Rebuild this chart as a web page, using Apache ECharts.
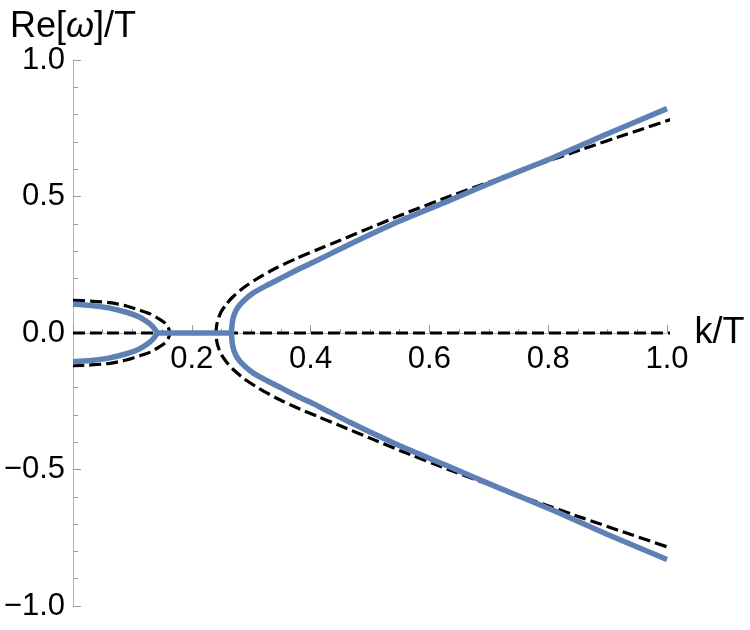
<!DOCTYPE html>
<html>
<head>
<meta charset="utf-8">
<script src="https://cdn.jsdelivr.net/npm/echarts@6/dist/echarts.min.js"></script>
<style>
  html, body { margin: 0; padding: 0; background: #fff; }
  #chart { width: 750px; height: 630px; }
</style>
</head>
<body>
<div id="chart"></div>
<script>
// tick values
const xTicks = [0.2, 0.4, 0.6, 0.8, 1.0]
const yTicks = [-1.0, -0.5, 0.0, 0.5, 1.0]

// black dashed curves
const dashLoopK = [0, 0.03, 0.062, 0.09, 0.113, 0.13, 0.146, 0.155, 0.16, 0.163]
const dashLoopUp = [0.12, 0.117, 0.111, 0.099, 0.083, 0.07, 0.05, 0.036, 0.022, 0]
const dashLoopDown = [-0.12, -0.117, -0.111, -0.099, -0.083, -0.07, -0.05, -0.036, -0.022, 0]
const dashFlatK = [0, 1.016]
const dashFlatW = [0, 0]
const dashArmK = [0.241, 0.242, 0.245, 0.25, 0.258, 0.268, 0.287, 0.313, 0.343, 0.375, 0.41, 0.45, 0.5, 0.55, 0.632, 0.7, 0.78, 0.86, 0.932, 1.016]
const dashArmUp = [0, 0.03, 0.055, 0.08, 0.105, 0.13, 0.166, 0.203, 0.239, 0.272, 0.304, 0.34, 0.385, 0.43, 0.499, 0.552, 0.615, 0.675, 0.728, 0.789]
const dashArmDown = [0, -0.03, -0.055, -0.08, -0.105, -0.13, -0.166, -0.203, -0.239, -0.272, -0.304, -0.34, -0.385, -0.43, -0.5, -0.555, -0.618, -0.679, -0.733, -0.795]

// blue solid curves
const blueLoopK = [0, 0.03, 0.06, 0.09, 0.11, 0.124, 0.134, 0.141]
const blueLoopUp = [0.105, 0.101, 0.092, 0.076, 0.06, 0.042, 0.024, 0]
const blueLoopDown = [-0.105, -0.101, -0.092, -0.076, -0.06, -0.042, -0.024, 0]
const blueFlatK = [0.141, 0.267]
const blueFlatW = [0, 0]
const blueArmK = [0.267, 0.268, 0.271, 0.277, 0.287, 0.303, 0.326, 0.352, 0.382, 0.413, 0.466, 0.55, 0.632, 0.72, 0.809, 0.9, 1.0]
const blueArmUp = [0, 0.035, 0.065, 0.092, 0.117, 0.146, 0.174, 0.203, 0.236, 0.268, 0.325, 0.41, 0.484, 0.565, 0.643, 0.73, 0.822]
const blueArmDown = [0, -0.035, -0.065, -0.092, -0.117, -0.146, -0.174, -0.203, -0.236, -0.268, -0.327, -0.413, -0.488, -0.57, -0.65, -0.738, -0.83]

// upper half forward, lower half back (or the other way) so one path is drawn
function loop(ks, up, down) {
  const pts = []
  ks.forEach((k, i) => pts.push([k, up[i]]))
  for (let i = ks.length - 1; i >= 0; i--) pts.push([ks[i], down[i]])
  return pts
}
function arm(ks, up, down) {
  const pts = []
  for (let i = ks.length - 1; i >= 0; i--) pts.push([ks[i], up[i]])
  ks.forEach((k, i) => pts.push([k, down[i]]))
  return pts
}
function pairs(ks, ws) {
  return ks.map((k, i) => [k, ws[i]])
}

const blue = '#5e81b5'
const font = 'Liberation Sans, Arial, Helvetica, sans-serif'
const dashStyle = { color: '#000', width: 3.2, type: [12, 5], cap: 'butt' }
const blueStyle = { color: blue, width: 5.5 }

const gridTop = 60
const gridBottom = 24
const plotHeight = 630 - gridTop - gridBottom

const chart = echarts.init(document.getElementById('chart'))
const option = {
  animation: false,
  backgroundColor: '#fff',
  grid: {
    left: 73,
    right: 83,
    top: gridTop,
    bottom: gridBottom,
    containLabel: false,
    outerBoundsMode: 'none'
  },
  xAxis: {
    type: 'value',
    min: 0,
    max: xTicks[xTicks.length - 1],
    interval: 0.2,
    position: 'bottom',
    // put the axis through y = 0 (middle of the plot)
    offset: -plotHeight / 2,
    name: 'k/T',
    nameLocation: 'end',
    nameGap: 24,
    nameTextStyle: { color: '#000', fontSize: 36, fontFamily: font },
    axisLine: { onZero: false, lineStyle: { color: '#b5b5b5', width: 1 } },
    axisTick: { inside: true, length: 8, lineStyle: { color: '#999' } },
    minorTick: { show: true, splitNumber: 4, length: 4, lineStyle: { color: '#999' } },
    splitLine: { show: false },
    axisLabel: {
      showMinLabel: false,
      margin: 11,
      color: '#000',
      fontSize: 31,
      fontFamily: font,
      formatter: v => v.toFixed(1)
    }
  },
  yAxis: {
    type: 'value',
    min: yTicks[0],
    max: yTicks[yTicks.length - 1],
    interval: 0.5,
    name: '{a|Re[}{b|ω}{a|]/T}',
    nameLocation: 'end',
    nameGap: 14,
    nameTextStyle: {
      color: '#000',
      fontSize: 36,
      fontFamily: font,
      rich: {
        a: { color: '#000', fontSize: 36, fontFamily: font },
        b: { color: '#000', fontSize: 36, fontFamily: font, fontStyle: 'italic' }
      }
    },
    axisLine: { show: true, onZero: false, lineStyle: { color: '#b5b5b5', width: 1 } },
    axisTick: { show: true, inside: true, length: 8, lineStyle: { color: '#999' } },
    minorTick: { show: true, splitNumber: 5, length: 5, lineStyle: { color: '#999' } },
    splitLine: { show: false },
    axisLabel: {
      margin: 8,
      color: '#000',
      fontSize: 31,
      fontFamily: font,
      formatter: v => v.toFixed(1).replace('-', '\u2212')
    }
  },
  series: [
    {
      type: 'line',
      data: pairs(dashFlatK, dashFlatW),
      symbol: 'none',
      clip: false,
      lineStyle: dashStyle
    },
    {
      type: 'line',
      data: loop(dashLoopK, dashLoopUp, dashLoopDown),
      symbol: 'none',
      smooth: 0.2,
      clip: false,
      lineStyle: dashStyle
    },
    {
      type: 'line',
      data: arm(dashArmK, dashArmUp, dashArmDown),
      symbol: 'none',
      smooth: 0.2,
      clip: false,
      lineStyle: dashStyle
    },
    {
      type: 'line',
      data: loop(blueLoopK, blueLoopUp, blueLoopDown),
      symbol: 'none',
      smooth: 0.2,
      clip: false,
      lineStyle: blueStyle
    },
    {
      type: 'line',
      data: pairs(blueFlatK, blueFlatW),
      symbol: 'none',
      clip: false,
      lineStyle: blueStyle
    },
    {
      type: 'line',
      data: arm(blueArmK, blueArmUp, blueArmDown),
      symbol: 'none',
      smooth: 0.2,
      clip: false,
      lineStyle: blueStyle
    }
  ]
}
chart.setOption(option)
window.addEventListener('resize', () => chart.resize())
</script>
</body>
</html>
